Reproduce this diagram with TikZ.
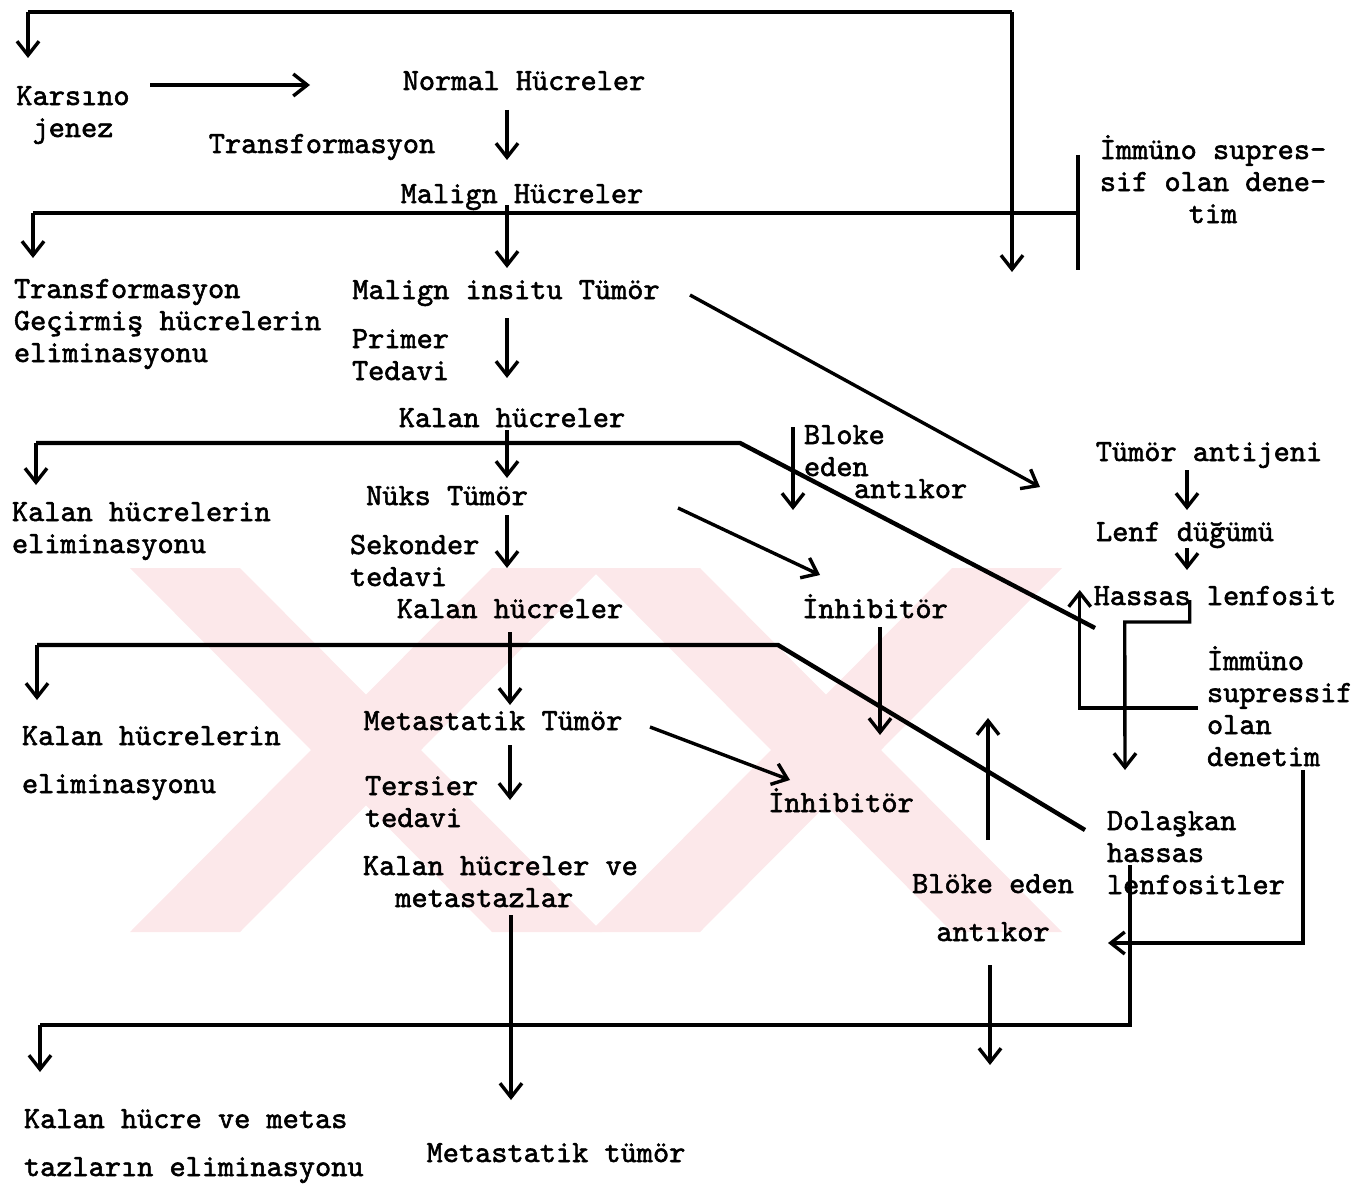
\documentclass[tikz,border=0pt]{standalone}
\usepackage{fontspec}
\newfontfamily\typew{lmmono10-regular.otf}[FakeBold=1.8]
\usetikzlibrary{arrows.meta,calc}
\definecolor{wmpink}{RGB}{252,232,234}

\begin{document}
\begin{tikzpicture}[x=0.5pt,y=-0.5pt,
    lbl/.style={font=\typew\fontsize{15.4}{16}\selectfont,inner sep=0pt,outer sep=0pt,text height=10pt,text depth=3pt},
    blk/.style={font=\typew\fontsize{15.4}{16}\selectfont,inner sep=0pt,outer sep=0pt,align=left},
    bus/.style={line width=2.2pt},
    arr/.style={line width=1.7pt,-{Straight Barb[length=7pt,width=11pt]}}]
  \useasboundingbox (0,0) rectangle (1371,1188);

  % faint watermark behind the chart
  \begin{scope}
    \clip (130,568) rectangle (1062,932);
    \foreach \xa in {130,590}{
      \fill[wmpink] (\xa,568) -- ++(110,0) -- ++(362,364) -- ++(-110,0) -- cycle;
      \fill[wmpink] (\xa+472,568) -- ++(-110,0) -- ++(-362,364) -- ++(110,0) -- cycle;
    }
  \end{scope}

  % texts (multi-line ones sit on their last line)
  \node[blk,align=center,anchor=base] (karsino) at (73,137) {Karsıno\\jenez};
  \node[lbl,anchor=base] (transf) at (322,153) {Transformasyon};
  \node[lbl,anchor=base] (normal) at (524,90) {Normal Hücreler};
  \node[lbl,anchor=base] (malign) at (522,203) {Malign Hücreler};
  \node[blk,align=center,anchor=base] (imm1) at (1213,223) {İmmüno supres-\\sif olan dene-\\tim};
  \node[blk,anchor=base west] (elim1) at (14,362) {Transformasyon\\Geçirmiş hücrelerin\\eliminasyonu};
  \node[lbl,anchor=base] (insitu) at (506,299) {Malign insitu Tümör};
  \node[blk,anchor=base west] (primer) at (352,380) {Primer\\Tedavi};
  \node[lbl,anchor=base] (kalan1) at (512,427) {Kalan hücreler};
  \node[blk,anchor=base west] (bloke) at (804,476) {Bloke\\eden};
  \node[lbl,anchor=base west] (antikorA) at (854,498) {antıkor};
  \node[blk,anchor=base west] (elim2) at (12,553) {Kalan hücrelerin\\eliminasyonu};
  \node[lbl,anchor=base] (nuks) at (447,505) {Nüks Tümör};
  \node[blk,anchor=base west] (sekonder) at (350,586) {Sekonder\\tedavi};
  \node[lbl,anchor=base] (kalan2) at (510,618) {Kalan hücreler};
  \node[lbl,anchor=base] (inhib1) at (875,618) {İnhibitör};
  \node[blk,anchor=base west] (elim3) at (22,793) {Kalan hücrelerin\\[8pt]eliminasyonu};
  \node[lbl,anchor=base] (metast) at (493,730) {Metastatik Tümör};
  \node[blk,anchor=base west] (tersier) at (365,827) {Tersier\\tedavi};
  \node[lbl,anchor=base] (inhib2) at (841,812) {İnhibitör};
  \node[blk,anchor=base west] (kalanve) at (363,907) {Kalan hücreler ve\\\phantom{xx}metastazlar};
  \node[blk,align=center,anchor=base] (blokeB) at (993,941) {Blöke eden\\[8pt]antıkor};
  \node[blk,anchor=base west] (dolaskan) at (1107,894) {Dolaşkan\\hassas\\lenfositler};
  \node[lbl,anchor=base] (antijen) at (1209,461) {Tümör antijeni};
  \node[lbl,anchor=base] (lenf) at (1185,541) {Lenf düğümü};
  \node[lbl,anchor=base] (hassas) at (1215,605) {Hassas lenfosit};
  \node[blk,anchor=base west] (imm2) at (1207,766) {İmmüno\\supressif\\olan\\denetim};
  \node[blk,anchor=base west] (metasB) at (24,1176) {Kalan hücre ve metas\\[8pt]tazların eliminasyonu};
  \node[lbl,anchor=base] (mtumor) at (556,1162) {Metastatik tümör};

  \coordinate (spine) at (507,0);
  \coordinate (spineB) at (510,0);
  \coordinate (spineC) at (511,0);
  \coordinate (rs) at (1187,0);

  % top loop
  \coordinate (tl) at (28,12);
  \coordinate (tr) at (1012,12);
  \draw[bus] (tl) -- (tr);
  \draw[arr] (tl) -- ($(karsino.base)+(-45,-79)$);
  \draw[arr] (tr) -- ++(0,260);
  \draw[arr] ($(karsino.base)+(77,-52)$) -- ($(normal.base)+(-214,-5)$);
  \draw[arr] ($(normal.base -| spine)+(0,20)$) -- ($(malign.base -| spine)+(0,-43)$);

  % malign cells line
  \coordinate (b2l) at (33,213);
  \coordinate (b2r) at (1078,213);
  \draw[bus] (b2l) -- (b2r);
  \draw[bus] ($(b2r)+(0,-58)$) -- ($(b2r)+(0,57)$);
  \draw[arr] (b2l) -- ($(elim1.base west)+(19,-104)$);
  \draw[arr] ($(malign.base -| spine)+(0,2)$) -- ($(insitu.base -| spine)+(0,-31)$);
  \draw[arr] ($(insitu.base -| spine)+(0,19)$) -- ($(kalan1.base -| spine)+(0,-49)$);
  \draw[arr] ($(insitu.base)+(184,-4)$) -- ($(antijen.base)+(-169,26)$);

  % first residual cells
  \coordinate (k1l) at (36,443);
  \coordinate (k1k) at (740,443);
  \coordinate (k1end) at (1095,628);
  \draw[bus] (k1l) -- (k1k) -- (k1end);
  \draw[arr] (k1l) -- ($(elim2.base west)+(24,-68)$);
  \draw[arr] ($(kalan1.base -| spine)+(0,3)$) -- ($(nuks.base -| spine)+(0,-27)$);
  \draw[arr] ($(bloke.base west)+(-11,-49)$) -- ++(0,83);
  \draw[arr] ($(nuks.base -| spine)+(0,10)$) -- ($(kalan2.base -| spine)+(0,-50)$);
  \draw[arr] ($(nuks.base)+(231,3)$) -- ($(inhib1.base)+(-55,-43)$);

  % second residual cells
  \coordinate (k2l) at (37,645);
  \coordinate (k2k) at (778,645);
  \draw[bus] (k2l) -- (k2k) -- ($(dolaskan.base west)+(-22,-64)$);
  \draw[arr] (k2l) -- ($(elim3.base west)+(15,-93)$);
  \draw[arr] ($(kalan2.base -| spineB)+(0,14)$) -- ($(metast.base -| spineB)+(0,-25)$);
  \draw[arr] ($(inhib1.base)+(5,9)$) -- ++(0,108);
  \draw[arr] ($(metast.base -| spineB)+(0,15)$) -- ($(kalanve.base west -| spineB)+(0,-107)$);
  \draw[arr] ($(metast.base)+(157,-3)$) -- ($(inhib2.base)+(-51,-32)$);

  % residual cells and metastases
  \coordinate (b3l) at (40,1025);
  \draw[arr] ($(kalanve.base west -| spineC)+(0,8)$) -- ($(mtumor.base -| spineC)+(0,-62)$);
  \draw[bus] ($(dolaskan.base west)+(23,-29)$) |- (b3l);
  \draw[arr] (b3l) -- ($(metasB.base west)+(16,-104)$);
  \draw[arr] ($(blokeB.base)+(-5,-101)$) -- ++(0,-122);
  \draw[arr] ($(blokeB.base)+(-3,24)$) -- ++(0,100);

  % lymph node side
  \draw[arr] ($(antijen.base -| rs)+(0,9)$) -- ($(lenf.base -| rs)+(0,-31)$);
  \draw[arr] ($(lenf.base -| rs)+(0,7)$) -- ($(hassas.base -| rs)+(0,-35)$);
  \draw[arr] ($(hassas.base west)+(96,-5)$) -- ++(0,22) -- ++(-65,0) -- ($(dolaskan.base west)+(18,-124)$);
  \draw[arr] ($(imm2.base west)+(-9,-58)$) -| ($(hassas.base west)+(-14,-15)$);
  \draw[arr] ($(imm2.base west)+(96,4)$) |- ($(dolaskan.base west)+(1,49)$);
\end{tikzpicture}
\end{document}
